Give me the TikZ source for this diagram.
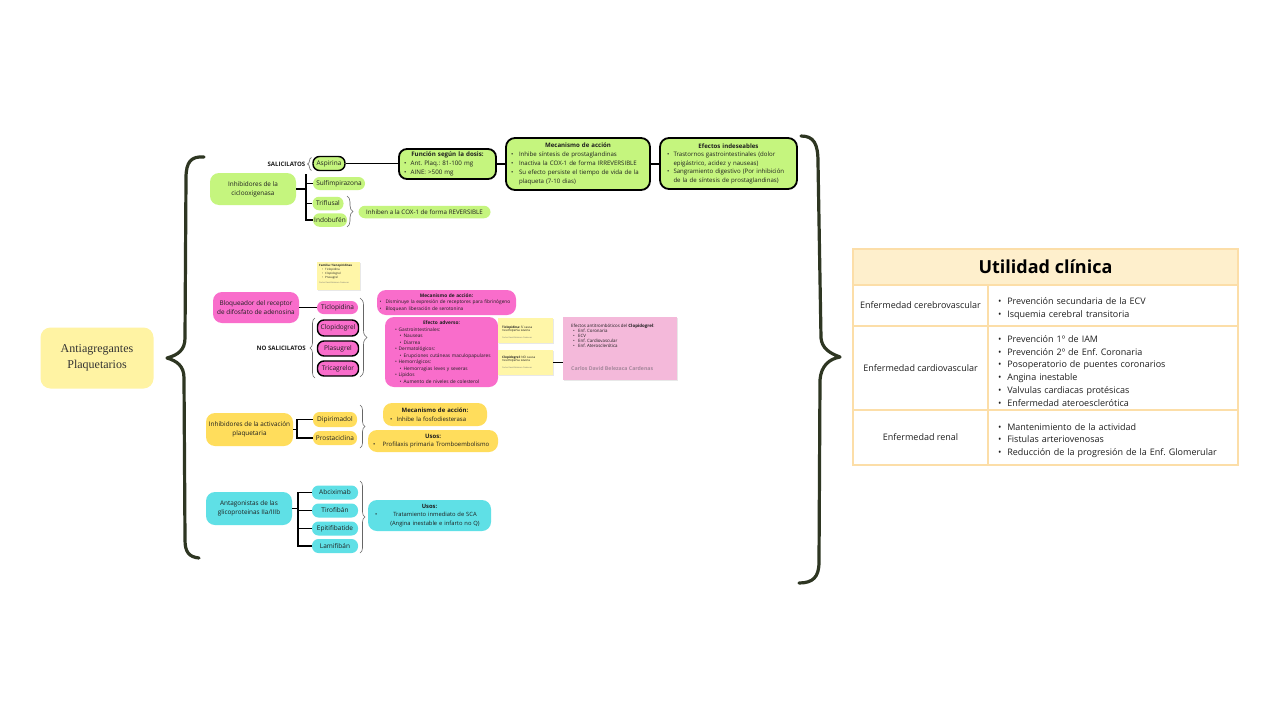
\documentclass[tikz,border=0pt]{standalone}
\usepackage{fontspec}
\setmainfont{Open Sans}
\newfontfamily\titlefont{Liberation Serif}
\usetikzlibrary{decorations.pathreplacing,shadows}
\definecolor{cgreen}{HTML}{C5F57E}
\definecolor{cpink}{HTML}{F96DCB}
\definecolor{cpale}{HTML}{F4B9DA}
\definecolor{cgold}{HTML}{FFDD5C}
\definecolor{ccyan}{HTML}{5FE0E6}
\definecolor{cmain}{HTML}{FFF3A3}
\definecolor{cnote}{HTML}{FFF6A8}
\definecolor{thead}{HTML}{FEEFCC}
\definecolor{tline}{HTML}{FCDEA8}
\definecolor{brc}{HTML}{2E3622}
\definecolor{ink}{HTML}{1E1E1E}
\definecolor{authc}{HTML}{A5879B}
\frenchspacing
\newcommand\fs[2]{\fontsize{#1}{#2}\selectfont}
\newcommand\myitem[3]{\par\noindent\hspace*{#1}\makebox[#2][l]{\textbullet}\mbox{#3}\par}
\newcommand\mycont[2]{\par\noindent\hspace*{#1}\mbox{#2}\par}
\tikzset{
 base/.style={inner sep=0pt, text=ink, align=center, font=\fs{6.4}{9}},
 sz/.style 2 args={minimum width=#1pt, minimum height=#2pt},
 gpill/.style={base, fill=cgreen, rounded corners=6.5pt},
 ppill/.style={base, fill=cpink, rounded corners=6.5pt},
 ypill/.style={base, fill=cgold, rounded corners=6.5pt},
 cpill/.style={base, fill=ccyan, rounded corners=6.5pt},
 kid/.style={font=\fs{6.5}{8}},
 bord/.style={draw=black, line width=1.4pt},
 conn/.style={draw=black, line width=1.7pt},
 sbrace/.style={draw=black!60, line width=0.6pt, decorate, decoration={brace, amplitude=#1pt}},
 bigbrace/.style={draw=brc, line width=3.2pt, line cap=round, line join=round},
 shad/.style={drop shadow={opacity=0.18, shadow xshift=0.8pt, shadow yshift=-0.8pt}},
 note/.style={fill=cnote, inner sep=0pt, shad},
 ntext/.style={anchor=north west, inner sep=0pt, align=left, text=ink},
 cell/.style={draw=tline, line width=1.2pt, inner sep=0pt, text=ink, font=\fs{9}{12.7}},
 lbl/.style={inner sep=0pt, text=ink, font=\bfseries\fs{6.1}{7}},
}
\begin{document}
\begin{tikzpicture}[x=1pt,y=-1pt]
\fill[white] (0,0) rectangle (1280,720);
\useasboundingbox (0,0) rectangle (1280,720);

% main node
\node[base, fill=cmain, rounded corners=10pt, sz={113}{61}, font=\titlefont\fs{12}{15.5}, text=black!80] (main) at (97,358) {Antiagregantes\\Plaquetarios};

% big braces
\draw[bigbrace] (204,157) .. controls (191,156) and (186,162) .. (186,178) -- (185,338) .. controls (185,350) and (178,355) .. (167,358) .. controls (177,361) and (184,366) .. (184,378) -- (185,540) .. controls (185,552) and (189,557) .. (199,558);
\draw[bigbrace] (801,136) .. controls (814,136) and (818,144) .. (818,162) -- (821,338) .. controls (822,348) and (829,353) .. (840,357) .. controls (829,359) and (821,366) .. (820,380) -- (819,562) .. controls (819,577) and (813,583) .. (799,583);

% ===== green =====
\node[gpill, sz={86}{32}, rounded corners=9pt] (inh) at (253,189) {Inhibidores de la\\ciclooxigenasa};
\node[gpill, kid, bord, sz={32}{14}] (asp) at (329,163.5) {Aspirina};
\node[gpill, kid, sz={52}{13}] (sulf) at (339,183.5) {Sulfimpirazona};
\node[gpill, kid, sz={31}{13.5}] (trif) at (328,203.5) {Triflusal};
\node[gpill, kid, sz={34}{13.5}] (indo) at (330,220) {Indobufén};
\node[gpill, sz={132}{12.5}, font=\fs{6.2}{8}] (rev) at (424.5,212) {Inhiben a la COX-1 de forma REVERSIBLE};
\node[lbl, anchor=east] (sal) at (305.5,164) {SALICILATOS};
\draw[sbrace=4] (311.5,170.5) -- (311.5,157.5);
\draw[sbrace=6] (347,196) -- (347,227);

\node[gpill, draw=black, line width=1.8pt, rounded corners=8pt, sz={97}{30}, text width=87pt, align=left, font=\fs{6.2}{9.3}] (fun) at (447.5,164)
 {{\centering\textbf{Función según la dosis:}\par}\myitem{0pt}{6.7pt}{Ant. Plaq.: 81-100 mg}\myitem{0pt}{6.7pt}{AINE: >500 mg}};
\node[gpill, draw=black, line width=1.8pt, rounded corners=9pt, sz={144}{52}, text width=134pt, align=left, font=\fs{6.1}{9}] (mec1) at (578,164)
 {{\centering\textbf{Mecanismo de acción}\par}
 \myitem{0pt}{8pt}{Inhibe síntesis de prostaglandinas}
 \myitem{0pt}{8pt}{Inactiva la COX-1 de forma IRREVERSIBLE}
 \myitem{0pt}{8pt}{Su efecto persiste el tiempo de vida de la}
 \mycont{8pt}{plaqueta (7-10 dias)}};
\node[gpill, draw=black, line width=1.8pt, rounded corners=9pt, sz={137}{51}, text width=123pt, align=left, font=\fs{6.1}{8.5}] (efe) at (728.5,163.5)
 {{\centering\textbf{Efectos indeseables}\par}
 \myitem{0pt}{6.5pt}{Trastornos gastrointestinales (dolor}
 \mycont{6.5pt}{epigástrico, acidez y nauseas)}
 \myitem{0pt}{6.5pt}{Sangramiento digestivo (Por inhibición}
 \mycont{6.5pt}{de la de síntesis de prostaglandinas)}};

\coordinate (gtop) at (306,174);
\draw[conn] (inh.east) -- (inh.east -| gtop);
\draw[conn] (gtop) -- (gtop |- indo.west) -- (indo.west);
\draw[conn] (sulf.west -| gtop) -- (sulf.west);
\draw[conn] (trif.west -| gtop) -- (trif.west);
\draw[conn] (asp.east) -- (asp.east -| fun.west);
\draw[conn] (fun.east) -- (fun.east -| mec1.west);
\draw[conn] (mec1.east) -- (mec1.east -| efe.west);

% ===== pink =====
\node[note, sz={43}{28}] (n1) at (338.3,276) {};
\node[ntext, font=\fs{2.9}{2.8}] (n1t) at (319,264.3) {\textbf{Familia: Tienopiridinas}\\\hspace*{2.7pt}\makebox[3.3pt][l]{\textbullet}Ticlopidina\\\hspace*{2.7pt}\makebox[3.3pt][l]{\textbullet}Clopidogrel\\\hspace*{2.7pt}\makebox[3.3pt][l]{\textbullet}Prasugrel\\[2.6pt]{\fs{2}{2.4}\color{black!55}Carlos David Belezaca Cardenas}};

\node[ppill, sz={86}{31}, rounded corners=9pt] (blo) at (256,307.5) {Bloqueador del receptor\\de difosfato de adenosina};
\node[ppill, kid, sz={41}{13}] (tic) at (337.5,307.5) {Ticlopidina};
\node[ppill, kid, bord, sz={41}{16}] (clo) at (338,328) {Clopidogrel};
\node[ppill, kid, bord, sz={41}{15}] (pla) at (338,348.5) {Plasugrel};
\node[ppill, kid, bord, sz={41}{15}] (tri) at (338,368.5) {Tricagrelor};
\node[lbl, anchor=east] (nosal) at (306,348) {NO SALICILATOS};
\draw[conn] (blo.east) -- (blo.east -| tic.west);
\draw[sbrace=5] (315,378) -- (315,318);
\draw[sbrace=7] (360,298) -- (360,377);

\node[ppill, rounded corners=9pt, sz={139}{25}, text width=134pt, align=left, font=\fs{4.8}{6.3}] (pmec) at (446.5,302.5)
 {{\centering\textbf{Mecanismo de acción:}\par}
 \myitem{0pt}{6pt}{Disminuye la expresión de receptores para fibrinógeno}
 \myitem{0pt}{6pt}{Bloquean liberación de serotonina}};
\node[ppill, rounded corners=9pt, sz={113}{70}, text width=93pt, align=left, font=\fs{4.8}{6.5}] (pady) at (441.5,352)
 {{\centering\textbf{Efecto adverso:}\par}
 \myitem{0pt}{3.6pt}{Gastrointestinales:}
 \myitem{4.6pt}{4pt}{Nauseas}
 \myitem{4.6pt}{4pt}{Diarrea}
 \myitem{0pt}{3.6pt}{Dermatológicos:}
 \myitem{4.6pt}{4pt}{Erupciones cutáneas maculopapulares}
 \myitem{0pt}{3.6pt}{Hemorrágicos:}
 \myitem{4.6pt}{4pt}{Hemorragias leves y severas}
 \myitem{0pt}{3.6pt}{Lípidos}
 \myitem{4.6pt}{4pt}{Aumento de niveles de colesterol}};

\node[note, sz={55}{25}] (n2) at (525.5,330.5) {};
\node[ntext, font=\fs{3.1}{3.4}] (n2t) at (502,326) {\textbf{Ticlopidina:} Sí causa\\neutropenia severa\\[3pt]{\fs{2}{2.4}\color{black!55}Carlos David Belezaca Cardenas}};
\node[note, sz={55}{25}] (n3) at (525.5,362.5) {};
\node[ntext, font=\fs{3.1}{3.4}] (n3t) at (502,356) {\textbf{Clopidogrel:} NO causa\\neutropenia severa\\[3pt]{\fs{2}{2.4}\color{black!55}Carlos David Belezaca Cardenas}};

\node[fill=cpale, inner sep=0pt, shad, sz={114}{63}] (pale) at (620,348.5) {};
\node[ntext, font=\fs{4.4}{5}] (palet) at (571,324.2) {Efectos antitrombóticos del \textbf{Clopidogrel}:\\
 \hspace*{2pt}\makebox[5pt][l]{\textbullet}Enf. Coronaria\\
 \hspace*{2pt}\makebox[5pt][l]{\textbullet}ECV\\
 \hspace*{2pt}\makebox[5pt][l]{\textbullet}Enf. Cardiovascular\\
 \hspace*{2pt}\makebox[5pt][l]{\textbullet}Enf. Aterosclerótica};
\node[anchor=west, inner sep=0pt, font=\bfseries\fs{5.2}{6}, text=authc] (auth) at (571,368.5) {Carlos David Belezaca Cardenas};
\draw[conn] (n3.east) -- (n3.east -| pale.west);

% ===== yellow =====
\node[ypill, sz={87}{33}, rounded corners=9pt] (yinh) at (249.5,429.5) {Inhibidores de la activación\\plaquetaria};
\node[ypill, kid, sz={44}{15}] (dip) at (335,419.5) {Dipirimadol};
\node[ypill, kid, sz={44}{14}] (pros) at (335,438) {Prostaciclina};
\coordinate (ybr) at (297,429);
\draw[conn] (yinh.east) -- (yinh.east -| ybr);
\draw[conn] (dip.west) -- (dip.west -| ybr) -- (pros.west -| ybr) -- (pros.west);
\draw[sbrace=5] (360,405) -- (360,448);
\node[ypill, rounded corners=9pt, sz={104}{23}, text width=90pt, align=left, font=\fs{6}{8.8}] (ymec) at (435,414.5)
 {{\centering\textbf{Mecanismo de acción:}\par}\myitem{0pt}{6.7pt}{Inhibe la fosfodiesterasa}};
\node[ypill, rounded corners=9pt, sz={130}{22}, text width=120pt, align=left, font=\fs{6}{8.8}] (yuso) at (433,441)
 {{\centering\textbf{Usos:}\par}\myitem{0pt}{9.7pt}{Profilaxis primaria Tromboembolismo}};

% ===== cyan =====
\node[cpill, sz={86}{33}, rounded corners=9pt] (cinh) at (249,508.5) {Antagonistas de las\\glicoproteinas IIa/IIIb};
\node[cpill, kid, sz={46}{14}] (abc) at (335,492.5) {Abciximab};
\node[cpill, kid, sz={46}{14}] (tiro) at (335,510.5) {Tirofibán};
\node[cpill, kid, sz={46}{14}] (epi) at (335,528.5) {Epitifibatide};
\node[cpill, kid, sz={46}{14}] (lami) at (335,546) {Lamifibán};
\coordinate (cbr) at (298,509);
\draw[conn] (cinh.east) -- (cinh.east -| cbr);
\draw[conn] (abc.west) -- (abc.west -| cbr) -- (lami.west -| cbr) -- (lami.west);
\draw[conn] (tiro.west -| cbr) -- (tiro.west);
\draw[conn] (epi.west -| cbr) -- (epi.west);
\draw[sbrace=5] (360,481) -- (360,553);
\node[cpill, rounded corners=9pt, sz={123}{31}, text width=109pt, align=left, font=\fs{5.8}{8.4}] (cuso) at (429.5,515.5)
 {{\centering\textbf{Usos:}\par}\noindent\makebox[11pt][l]{\textbullet}\parbox[t]{98pt}{\centering Tratamiento inmediato de SCA\\(Angina inestable e infarto no Q)}};

% ===== table =====
\node[cell, fill=thead, sz={385}{36}, font=\bfseries\fs{18}{20}, text=black] (th) at (1045.5,267) {Utilidad clínica};
\node[cell, sz={135}{41}, align=center] (r1l) at (920.5,305.5) {Enfermedad cerebrovascular};
\node[cell, sz={250}{41}, text width=230pt, align=left] (r1r) at (1113,305.5)
 {\myitem{0pt}{9.3pt}{Prevención secundaria de la ECV}\myitem{0pt}{9.3pt}{Isquemia cerebral transitoria}};
\node[cell, sz={135}{84}, align=center] (r2l) at (920.5,368) {Enfermedad cardiovascular};
\node[cell, sz={250}{84}, text width=230pt, align=left] (r2r) at (1113,368)
 {\myitem{0pt}{9.3pt}{Prevención 1º de IAM}
  \myitem{0pt}{9.3pt}{Prevención 2º de Enf. Coronaria}
  \myitem{0pt}{9.3pt}{Posoperatorio de puentes coronarios}
  \myitem{0pt}{9.3pt}{Angina inestable}
  \myitem{0pt}{9.3pt}{Valvulas cardiacas protésicas}
  \myitem{0pt}{9.3pt}{Enfermedad ateroesclerótica}};
\node[cell, sz={135}{55}, align=center] (r3l) at (920.5,437.5) {Enfermedad renal};
\node[cell, sz={250}{55}, text width=230pt, align=left] (r3r) at (1113,437.5)
 {\myitem{0pt}{9.3pt}{Mantenimiento de la actividad}
  \myitem{0pt}{9.3pt}{Fistulas arteriovenosas}
  \myitem{0pt}{9.3pt}{Reducción de la progresión de la Enf. Glomerular}};
\end{tikzpicture}
\end{document}
